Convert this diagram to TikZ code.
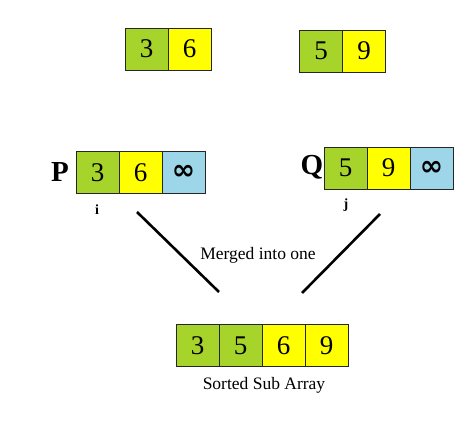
\documentclass[tikz,border=0pt]{standalone}
\usepackage{fontspec}
\setmainfont{Liberation Serif}
\newfontfamily\symfont{DejaVu Sans}
\usepackage{xcolor}
\usetikzlibrary{positioning}

\definecolor{cellgreen}{RGB}{166,212,42}
\definecolor{cellyellow}{RGB}{255,255,0}
\definecolor{cellblue}{RGB}{157,214,232}

\tikzset{
  cell/.style={draw=black!85, line width=0.9pt, minimum width=43pt,
    minimum height=42pt, inner sep=0pt, outer sep=0pt,
    font=\fontsize{27}{27}\selectfont},
  gcell/.style={cell, fill=cellgreen},
  ycell/.style={cell, fill=cellyellow},
  bcell/.style={cell, fill=cellblue, font=\symfont\fontsize{28}{28}\selectfont\bfseries},
  arrname/.style={font=\fontsize{29}{29}\selectfont\bfseries},
  idxname/.style={font=\fontsize{14}{14}\selectfont\bfseries},
  note/.style={font=\fontsize{17.5}{17.5}\selectfont},
  mergeline/.style={line width=2.6pt, black}
}

\begin{document}
\begin{tikzpicture}[x=1pt, y=-1pt]
  \useasboundingbox (0,0) rectangle (474,446);

  % the two halves
  \node[gcell] (a1) at (146.5,49) {3};
  \node[ycell, right=0pt of a1] (a2) {6};

  \node[gcell] (b1) at (321,51) {5};
  \node[ycell, right=0pt of b1] (b2) {9};

  % copies with sentinel
  \node[gcell] (p1) at (97.5,172.5) {3};
  \node[ycell, right=0pt of p1] (p2) {6};
  \node[bcell, right=0pt of p2] (p3) {∞};
  \node[arrname] (pname) at (60,172) {P};
  \node[idxname] (iname) at (97,210) {i};

  \node[gcell] (q1) at (345.5,168) {5};
  \node[ycell, right=0pt of q1] (q2) {9};
  \node[bcell, right=0pt of q2] (q3) {∞};
  \node[arrname] (qname) at (312,167) {Q};
  \node[idxname] (jname) at (346,205) {j};

  % merge
  \coordinate (lfrom) at (137,212);
  \coordinate (lto) at (219,292);
  \coordinate (rfrom) at (380,214);
  \coordinate (rto) at (302,293);
  \draw[mergeline] (lfrom) -- (lto);
  \draw[mergeline] (rfrom) -- (rto);
  \node[note] (merged) at (258,255) {Merged into one};

  % result
  \node[gcell] (s1) at (197.5,345.5) {3};
  \node[gcell, right=0pt of s1] (s2) {5};
  \node[ycell, right=0pt of s2] (s3) {6};
  \node[ycell, right=0pt of s3] (s4) {9};
  \node[note] (sorted) at (264,385) {Sorted Sub Array};
\end{tikzpicture}
\end{document}
